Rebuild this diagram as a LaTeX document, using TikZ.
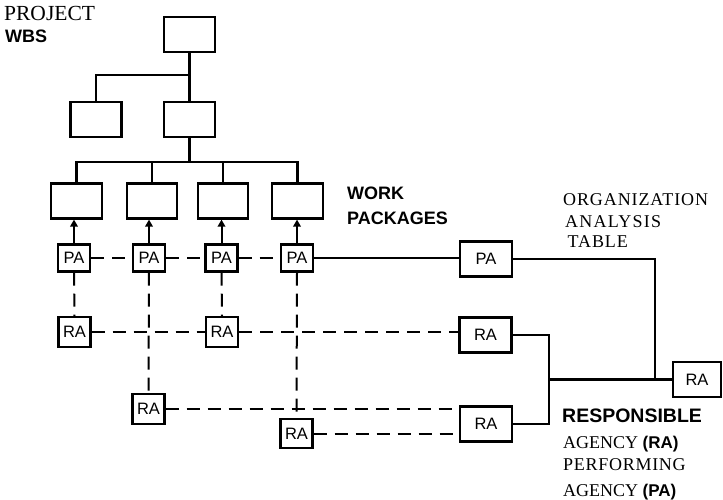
\documentclass[tikz,border=0pt]{standalone}
\usepackage{fontspec}
\setmainfont{Liberation Serif}
\setsansfont{Liberation Sans}
\usetikzlibrary{arrows.meta}
\begin{document}
\begin{tikzpicture}[x=1pt,y=-1pt,
  box/.style={draw,line width=2.2pt,inner sep=0pt},
  wbsbox/.style={box,minimum width=51pt,minimum height=35pt},
  agent/.style={box,minimum width=32pt,minimum height=27pt,font=\sffamily\fontsize{16.5}{18}\selectfont},
  bigagent/.style={box,minimum width=52pt,minimum height=35pt,font=\sffamily\fontsize{16.5}{18}\selectfont},
  link/.style={line width=2.2pt},
  dlink/.style={line width=2pt,dash pattern=on 13pt off 8pt},
  palink/.style={line width=1.4pt,dash pattern=on 13pt off 8pt},
  up/.style={line width=2pt,-{Triangle[length=7pt,width=7.5pt]}},
  lbl/.style={anchor=base west,inner sep=0pt},
  serif/.style={lbl,font=\rmfamily\fontsize{18}{20}\selectfont},
  sans/.style={lbl,font=\sffamily\bfseries\fontsize{18}{20}\selectfont}
]
\useasboundingbox (0,0) rectangle (723,500);

% project work breakdown structure
\node[wbsbox] (top) at (189.5,34.5) {};
\node[wbsbox] (l2a) at (96,119.5) {};
\node[wbsbox] (l2b) at (189.5,119.5) {};
\coordinate (b1) at (189.5,75);
\coordinate (bus) at (189.5,162);
\draw[link] (top.south) -- (b1);
\draw[link] (b1) -| (l2a.north);
\draw[link] (b1) -- (l2b.north);
\draw[link] (l2b.south) -- (bus);

% work packages
\node[wbsbox] (wp1) at (76.5,201) {};
\node[wbsbox,minimum width=50pt] (wp2) at (152,201) {};
\node[wbsbox,minimum width=50pt] (wp3) at (223,201) {};
\node[wbsbox] (wp4) at (297.5,201) {};
\draw[link] (wp1.north) |- (bus) -| (wp4.north);
\draw[link] (wp2.north) -- (wp2.north |- bus);
\draw[link] (wp3.north) -- (wp3.north |- bus);

% performing agencies
\node[agent] (pa1) at (74,258) {PA};
\node[agent] (pa2) at (149,258) {PA};
\node[agent] (pa3) at (221.5,258) {PA};
\node[agent] (pa4) at (297,258) {PA};
\foreach \i in {1,2,3,4} \draw[up] (pa\i.north) -- (pa\i.north |- wp\i.south);

% responsible agencies
\node[agent,minimum height=30pt] (ra1) at (74.5,332) {RA};
\node[agent,minimum height=30pt] (ra2) at (222,332) {RA};
\node[agent,minimum height=30pt] (ra3) at (148.5,409) {RA};
\node[agent,minimum height=29pt] (ra4) at (296.5,433.5) {RA};

% organization analysis table
\node[bigagent] (paR) at (486,259) {PA};
\node[bigagent] (raR1) at (485.5,335) {RA};
\node[bigagent] (raR2) at (486,424) {RA};
\node[bigagent,minimum width=48pt] (raF) at (697,379.5) {RA};
\coordinate (jR) at (655,379.5);
\coordinate (jL) at (549,379.5);

% dashed assignment lines
\draw[palink] (pa1.east) -- (pa2.west);
\draw[palink] (pa2.east) -- (pa3.west);
\draw[dlink] (pa3.east) -- (pa4.west);
\draw[link] (pa4.east) -- (pa4.east -| paR.west);
\draw[dlink] (pa1.south) -- (ra1.north);
\draw[dlink] (pa2.south) -- (ra3.north);
\draw[dlink] (pa3.south) -- (ra2.north);
\draw[dlink] (pa4.south) -- (ra4.north);
\draw[dlink] (ra1.east) -- (ra2.west);
\draw[dlink] (ra2.east) -- (ra2.east -| raR1.west);
\draw[dlink] (ra3.east) -- (ra3.east -| raR2.west);
\draw[dlink] (ra4.east) -- (ra4.east -| raR2.west);

% roll-up to the responsible agency
\draw[link] (paR.east) -| (jR);
\draw[link] (raR1.east) -| (jL);
\draw[link] (jL) |- (raR2.east);
\draw[link] (jL) -- (raF.west);

% labels
\node[serif,font=\rmfamily\fontsize{21.5}{24}\selectfont] (tproj) at (4,20.5) {PROJECT};
\node[sans] (twbs) at (5,42.5) {WBS};
\node[sans] (twork) at (347,200) {WORK};
\node[sans] (tpack) at (347,224) {PACKAGES};
\node[serif] (torg) at (563,205) {\addfontfeature{LetterSpace=5}ORGANIZATION};
\node[serif] (tana) at (565,227) {\addfontfeature{LetterSpace=7}ANALYSIS};
\node[serif] (ttab) at (567.5,247) {\addfontfeature{LetterSpace=5}TABLE};
\node[sans,font=\sffamily\bfseries\fontsize{19.5}{22}\selectfont] (tresp) at (562,422) {RESPONSIBLE};
\node[serif] (tagr) at (563,448) {AGENCY {\sffamily\bfseries\fontsize{17}{20}\selectfont (RA)}};
\node[serif] (tperf) at (563,470.5) {\addfontfeature{LetterSpace=4}PERFORMING};
\node[serif] (tagp) at (563,496) {AGENCY {\sffamily\bfseries\fontsize{17}{20}\selectfont (PA)}};
\end{tikzpicture}
\end{document}
